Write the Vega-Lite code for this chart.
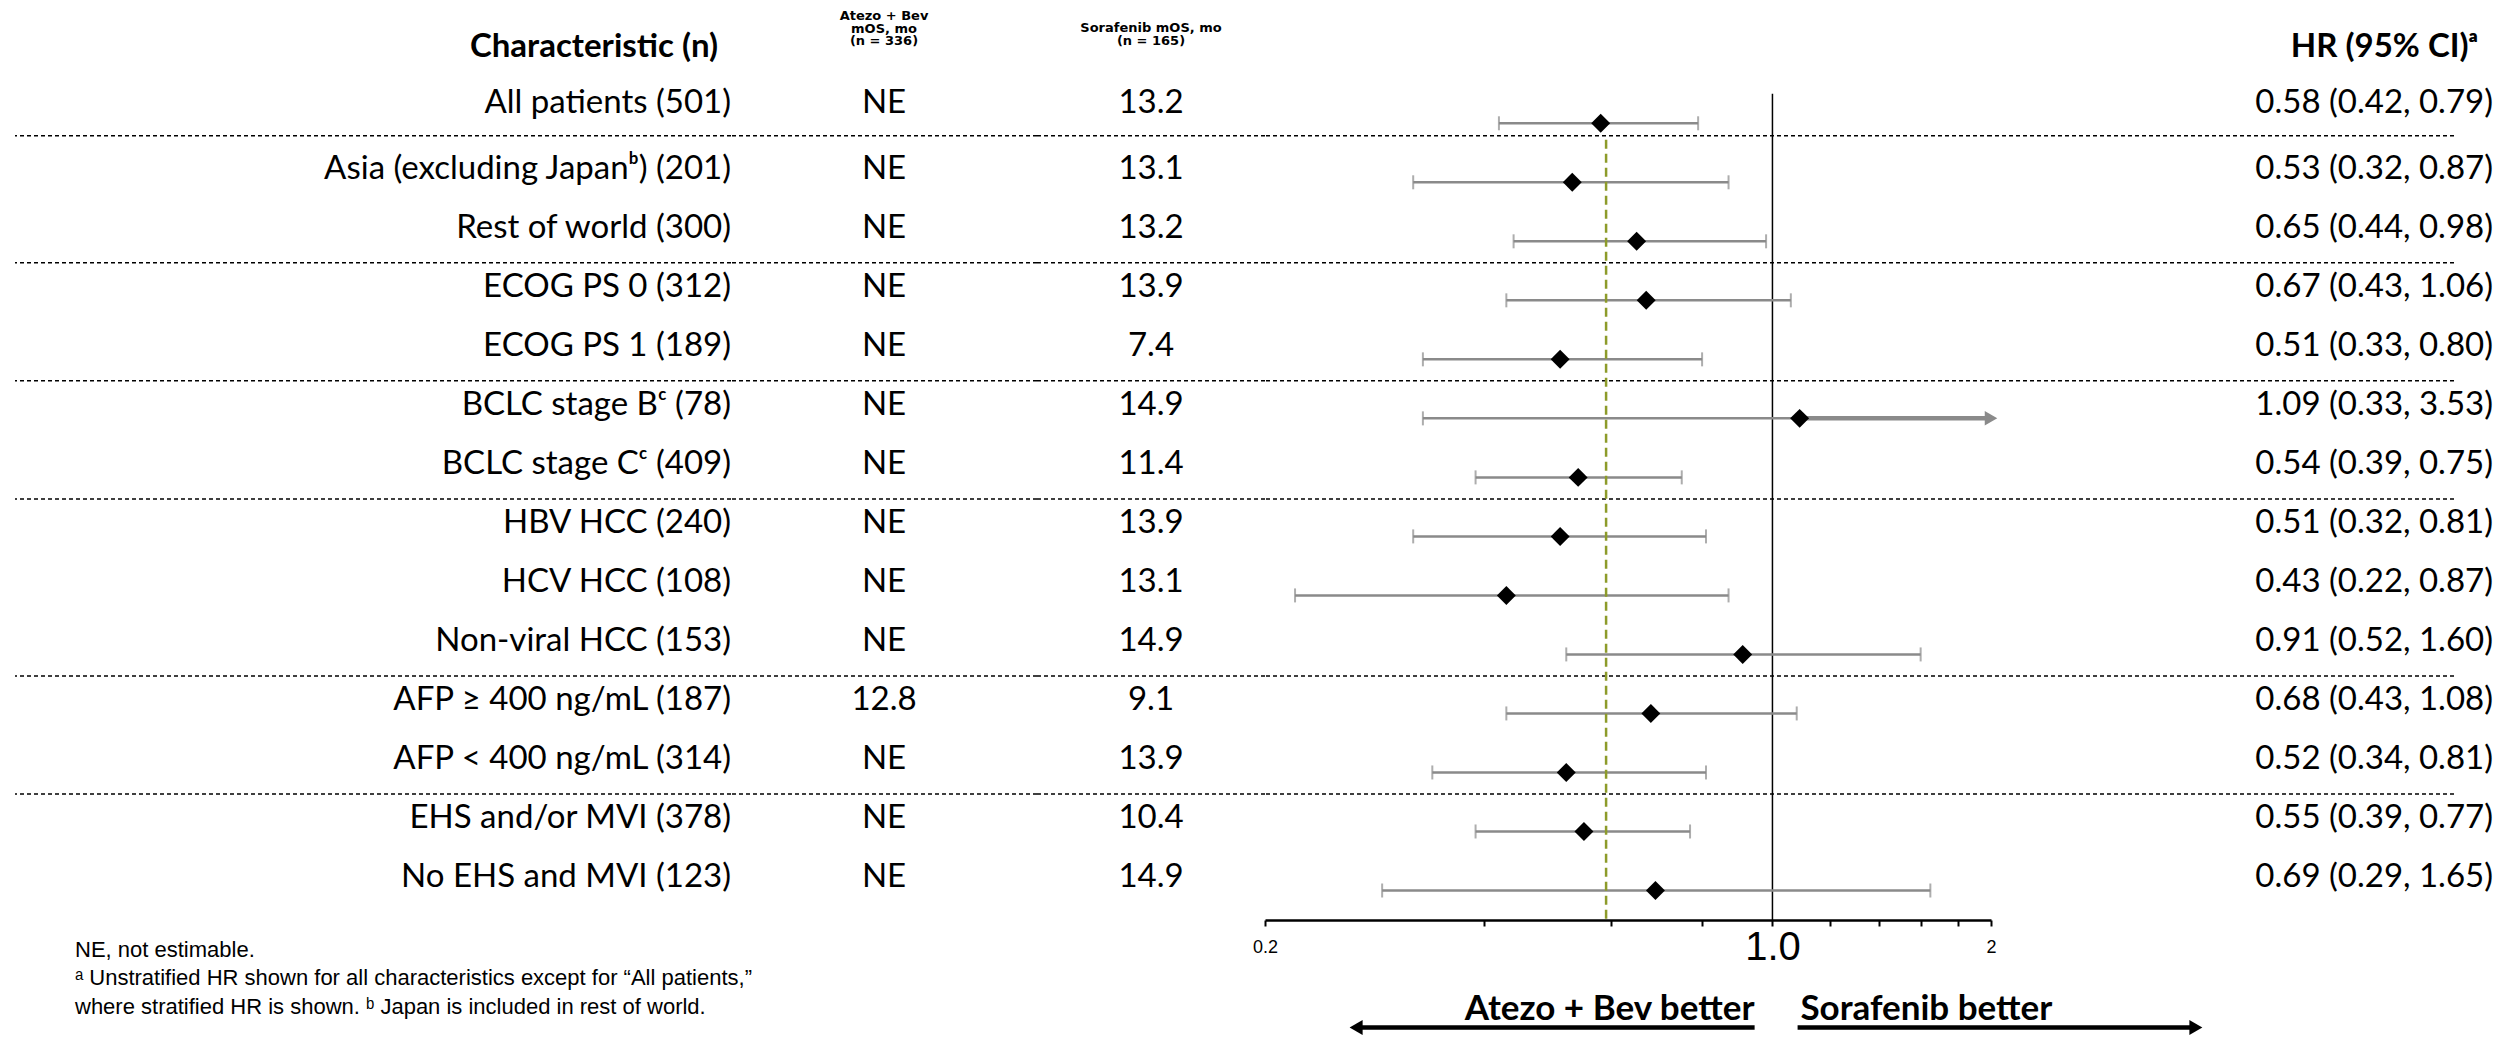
{
  "$schema": "https://vega.github.io/schema/vega-lite/v6.json",
  "padding": {"left": 14, "top": 0, "right": 0, "bottom": 0},
  "background": "white",
  "config": {"view": {"stroke": null}},
  "datasets": {
    "rows": [
      {"row": 0, "label": "All patients (501)", "atezo": "NE", "soraf": "13.2", "hr": 0.58, "lo": 0.42, "hi": 0.79, "hrtext": "0.58 (0.42, 0.79)"},
      {"row": 1, "label": "Asia (excluding Japanᵇ) (201)", "atezo": "NE", "soraf": "13.1", "hr": 0.53, "lo": 0.32, "hi": 0.87, "hrtext": "0.53 (0.32, 0.87)"},
      {"row": 2, "label": "Rest of world (300)", "atezo": "NE", "soraf": "13.2", "hr": 0.65, "lo": 0.44, "hi": 0.98, "hrtext": "0.65 (0.44, 0.98)"},
      {"row": 3, "label": "ECOG PS 0 (312)", "atezo": "NE", "soraf": "13.9", "hr": 0.67, "lo": 0.43, "hi": 1.06, "hrtext": "0.67 (0.43, 1.06)"},
      {"row": 4, "label": "ECOG PS 1 (189)", "atezo": "NE", "soraf": "7.4", "hr": 0.51, "lo": 0.33, "hi": 0.80, "hrtext": "0.51 (0.33, 0.80)"},
      {"row": 5, "label": "BCLC stage Bᶜ (78)", "atezo": "NE", "soraf": "14.9", "hr": 1.09, "lo": 0.33, "hi": 3.53, "hrtext": "1.09 (0.33, 3.53)"},
      {"row": 6, "label": "BCLC stage Cᶜ (409)", "atezo": "NE", "soraf": "11.4", "hr": 0.54, "lo": 0.39, "hi": 0.75, "hrtext": "0.54 (0.39, 0.75)"},
      {"row": 7, "label": "HBV HCC (240)", "atezo": "NE", "soraf": "13.9", "hr": 0.51, "lo": 0.32, "hi": 0.81, "hrtext": "0.51 (0.32, 0.81)"},
      {"row": 8, "label": "HCV HCC (108)", "atezo": "NE", "soraf": "13.1", "hr": 0.43, "lo": 0.22, "hi": 0.87, "hrtext": "0.43 (0.22, 0.87)"},
      {"row": 9, "label": "Non-viral HCC (153)", "atezo": "NE", "soraf": "14.9", "hr": 0.91, "lo": 0.52, "hi": 1.60, "hrtext": "0.91 (0.52, 1.60)"},
      {"row": 10, "label": "AFP ≥ 400 ng/mL (187)", "atezo": "12.8", "soraf": "9.1", "hr": 0.68, "lo": 0.43, "hi": 1.08, "hrtext": "0.68 (0.43, 1.08)"},
      {"row": 11, "label": "AFP < 400 ng/mL (314)", "atezo": "NE", "soraf": "13.9", "hr": 0.52, "lo": 0.34, "hi": 0.81, "hrtext": "0.52 (0.34, 0.81)"},
      {"row": 12, "label": "EHS and/or MVI (378)", "atezo": "NE", "soraf": "10.4", "hr": 0.55, "lo": 0.39, "hi": 0.77, "hrtext": "0.55 (0.39, 0.77)"},
      {"row": 13, "label": "No EHS and MVI (123)", "atezo": "NE", "soraf": "14.9", "hr": 0.69, "lo": 0.29, "hi": 1.65, "hrtext": "0.69 (0.29, 1.65)"}
    ],
    "seps": [{"boundary": 0.5}, {"boundary": 2.5}, {"boundary": 4.5}, {"boundary": 6.5}, {"boundary": 9.5}, {"boundary": 11.5}],
    "arrows": [{"dir": "left", "from": 0.945, "to": 0.267}, {"dir": "right", "from": 1.083, "to": 3.83}]
  },
  "spacing": 0,
  "bounds": "flush",
  "hconcat": [
    {
      "width": 716, "height": 920,
      "resolve": {"scale": {"x": "independent"}},
      "layer": [
        {"data": {"name": "seps"}, "transform": [{"filter": "datum.boundary < 1"}], "mark": {"type": "rule", "color": "black", "strokeWidth": 1.5, "strokeDash": [4, 3], "yOffset": -17},
         "encoding": {"y": {"field": "boundary", "type": "quantitative", "scale": {"domain": [-2.089, 13.5], "reverse": true, "nice": false, "zero": false}, "axis": null}}},
        {"data": {"name": "seps"}, "transform": [{"filter": "datum.boundary > 1"}], "mark": {"type": "rule", "color": "black", "strokeWidth": 1.5, "strokeDash": [4, 3], "yOffset": -8},
         "encoding": {"y": {"field": "boundary", "type": "quantitative", "scale": {"domain": [-2.089, 13.5], "reverse": true, "nice": false, "zero": false}, "axis": null}}},
        {"data": {"name": "rows"}, "transform": [{"filter": "datum.row == 0"}], "mark": {"type": "text", "align": "right", "baseline": "middle", "font": "Lato, DejaVu Sans", "fontSize": 33, "dy": -20, "color": "black"},
         "encoding": {
           "x": {"datum": "c", "scale": {"type": "point", "domain": ["c"], "padding": 0, "align": 1}, "axis": null},
           "y": {"field": "row", "type": "quantitative", "scale": {"domain": [-2.089, 13.5], "reverse": true, "nice": false, "zero": false}, "axis": null},
           "text": {"field": "label"}}},
        {"data": {"name": "rows"}, "transform": [{"filter": "datum.row > 0"}], "mark": {"type": "text", "align": "right", "baseline": "middle", "font": "Lato, DejaVu Sans", "fontSize": 33, "dy": -13, "color": "black"},
         "encoding": {
           "x": {"datum": "c", "scale": {"type": "point", "domain": ["c"], "padding": 0, "align": 1}, "axis": null},
           "y": {"field": "row", "type": "quantitative", "scale": {"domain": [-2.089, 13.5], "reverse": true, "nice": false, "zero": false}, "axis": null},
           "text": {"field": "label"}}},
        {"data": {"values": [{}]}, "mark": {"type": "text", "align": "right", "baseline": "middle", "font": "Lato, DejaVu Sans", "fontWeight": "bold", "fontSize": 33, "dx": -13, "dy": -17, "color": "black"},
         "encoding": {
           "x": {"datum": "c", "scale": {"type": "point", "domain": ["c"], "padding": 0, "align": 1}, "axis": null},
           "y": {"datum": -1, "type": "quantitative", "scale": {"domain": [-2.089, 13.5], "reverse": true, "nice": false, "zero": false}, "axis": null},
           "text": {"value": "Characteristic (n)"}}},
        {"data": {"values": [{}]}, "mark": {"type": "text", "align": "left", "baseline": "top", "font": "Liberation Sans, DejaVu Sans", "fontSize": 22, "lineHeight": 28.5, "lineBreak": "\n", "dx": 60, "dy": -10, "color": "black"},
         "encoding": {
           "x": {"datum": "c", "scale": {"type": "point", "domain": ["c"], "padding": 0, "align": 0}, "axis": null},
           "y": {"datum": 14, "type": "quantitative", "scale": {"domain": [-2.089, 13.5], "reverse": true, "nice": false, "zero": false}, "axis": null},
           "text": {"value": "NE, not estimable.\nᵃ Unstratified HR shown for all characteristics except for “All patients,”\nwhere stratified HR is shown. ᵇ Japan is included in rest of world."}}}
      ]
    },
    {
      "width": 306, "height": 920,
      "layer": [
        {"data": {"name": "seps"}, "transform": [{"filter": "datum.boundary < 1"}], "mark": {"type": "rule", "color": "black", "strokeWidth": 1.5, "strokeDash": [4, 3], "yOffset": -17},
         "encoding": {"y": {"field": "boundary", "type": "quantitative", "scale": {"domain": [-2.089, 13.5], "reverse": true, "nice": false, "zero": false}, "axis": null}}},
        {"data": {"name": "seps"}, "transform": [{"filter": "datum.boundary > 1"}], "mark": {"type": "rule", "color": "black", "strokeWidth": 1.5, "strokeDash": [4, 3], "yOffset": -8},
         "encoding": {"y": {"field": "boundary", "type": "quantitative", "scale": {"domain": [-2.089, 13.5], "reverse": true, "nice": false, "zero": false}, "axis": null}}},
        {"data": {"name": "rows"}, "transform": [{"filter": "datum.row == 0"}], "mark": {"type": "text", "align": "center", "baseline": "middle", "font": "Lato, DejaVu Sans", "fontSize": 33, "dy": -20, "color": "black"},
         "encoding": {
           "x": {"datum": "c", "scale": {"type": "point", "domain": ["c"], "padding": 0, "align": 0.5}, "axis": null},
           "y": {"field": "row", "type": "quantitative", "scale": {"domain": [-2.089, 13.5], "reverse": true, "nice": false, "zero": false}, "axis": null},
           "text": {"field": "atezo"}}},
        {"data": {"name": "rows"}, "transform": [{"filter": "datum.row > 0"}], "mark": {"type": "text", "align": "center", "baseline": "middle", "font": "Lato, DejaVu Sans", "fontSize": 33, "dy": -13, "color": "black"},
         "encoding": {
           "x": {"datum": "c", "scale": {"type": "point", "domain": ["c"], "padding": 0, "align": 0.5}, "axis": null},
           "y": {"field": "row", "type": "quantitative", "scale": {"domain": [-2.089, 13.5], "reverse": true, "nice": false, "zero": false}, "axis": null},
           "text": {"field": "atezo"}}},
        {"data": {"values": [{}]}, "mark": {"type": "text", "align": "center", "baseline": "top", "font": "DejaVu Sans", "fontWeight": "bold", "fontSize": 13, "lineHeight": 12.5, "lineBreak": "\n", "dy": -54, "color": "black"},
         "encoding": {
           "x": {"datum": "c", "scale": {"type": "point", "domain": ["c"], "padding": 0, "align": 0.5}, "axis": null},
           "y": {"datum": -1, "type": "quantitative", "scale": {"domain": [-2.089, 13.5], "reverse": true, "nice": false, "zero": false}, "axis": null},
           "text": {"value": "Atezo + Bev\nmOS, mo\n(n = 336)"}}}
      ]
    },
    {
      "width": 228, "height": 920,
      "layer": [
        {"data": {"name": "seps"}, "transform": [{"filter": "datum.boundary < 1"}], "mark": {"type": "rule", "color": "black", "strokeWidth": 1.5, "strokeDash": [4, 3], "yOffset": -17},
         "encoding": {"y": {"field": "boundary", "type": "quantitative", "scale": {"domain": [-2.089, 13.5], "reverse": true, "nice": false, "zero": false}, "axis": null}}},
        {"data": {"name": "seps"}, "transform": [{"filter": "datum.boundary > 1"}], "mark": {"type": "rule", "color": "black", "strokeWidth": 1.5, "strokeDash": [4, 3], "yOffset": -8},
         "encoding": {"y": {"field": "boundary", "type": "quantitative", "scale": {"domain": [-2.089, 13.5], "reverse": true, "nice": false, "zero": false}, "axis": null}}},
        {"data": {"name": "rows"}, "transform": [{"filter": "datum.row == 0"}], "mark": {"type": "text", "align": "center", "baseline": "middle", "font": "Lato, DejaVu Sans", "fontSize": 33, "dy": -20, "color": "black"},
         "encoding": {
           "x": {"datum": "c", "scale": {"type": "point", "domain": ["c"], "padding": 0, "align": 0.5}, "axis": null},
           "y": {"field": "row", "type": "quantitative", "scale": {"domain": [-2.089, 13.5], "reverse": true, "nice": false, "zero": false}, "axis": null},
           "text": {"field": "soraf"}}},
        {"data": {"name": "rows"}, "transform": [{"filter": "datum.row > 0"}], "mark": {"type": "text", "align": "center", "baseline": "middle", "font": "Lato, DejaVu Sans", "fontSize": 33, "dy": -13, "color": "black"},
         "encoding": {
           "x": {"datum": "c", "scale": {"type": "point", "domain": ["c"], "padding": 0, "align": 0.5}, "axis": null},
           "y": {"field": "row", "type": "quantitative", "scale": {"domain": [-2.089, 13.5], "reverse": true, "nice": false, "zero": false}, "axis": null},
           "text": {"field": "soraf"}}},
        {"data": {"values": [{}]}, "mark": {"type": "text", "align": "center", "baseline": "top", "font": "DejaVu Sans", "fontWeight": "bold", "fontSize": 13, "lineHeight": 12.5, "lineBreak": "\n", "dy": -42, "color": "black"},
         "encoding": {
           "x": {"datum": "c", "scale": {"type": "point", "domain": ["c"], "padding": 0, "align": 0.5}, "axis": null},
           "y": {"datum": -1, "type": "quantitative", "scale": {"domain": [-2.089, 13.5], "reverse": true, "nice": false, "zero": false}, "axis": null},
           "text": {"value": "Sorafenib mOS, mo\n(n = 165)"}}}
      ]
    },
    {
      "width": 726, "height": 920,
      "resolve": {"scale": {"x": "independent"}},
      "layer": [
        {"data": {"name": "seps"}, "transform": [{"filter": "datum.boundary < 1"}], "mark": {"type": "rule", "color": "black", "strokeWidth": 1.5, "strokeDash": [4, 3], "yOffset": -17},
         "encoding": {"y": {"field": "boundary", "type": "quantitative", "scale": {"domain": [-2.089, 13.5], "reverse": true, "nice": false, "zero": false}, "axis": null}}},
        {"data": {"name": "seps"}, "transform": [{"filter": "datum.boundary > 1"}], "mark": {"type": "rule", "color": "black", "strokeWidth": 1.5, "strokeDash": [4, 3], "yOffset": -8},
         "encoding": {"y": {"field": "boundary", "type": "quantitative", "scale": {"domain": [-2.089, 13.5], "reverse": true, "nice": false, "zero": false}, "axis": null}}},
        {"data": {"values": [{}]}, "mark": {"type": "rule", "color": "black", "strokeWidth": 1.5},
         "encoding": {
           "x": {"datum": 1, "type": "quantitative", "scale": {"type": "log", "domain": [0.2, 2], "nice": false, "clamp": true},
                 "axis": {"values": [0.2, 0.4, 0.6, 0.8, 1, 1.2, 1.4, 1.6, 1.8, 2],
                          "labelExpr": "datum.value == 0.2 ? '0.2' : (datum.value == 1 ? '1.0' : (datum.value == 2 ? '2' : ''))",
                          "labelFontSize": {"condition": {"test": "datum.value == 1", "value": 40}, "value": 18},
                          "labelFont": "Liberation Sans", "labelColor": "black", "labelBaseline": "middle", "labelPadding": 21,
                          "labelFlush": false, "labelOverlap": false, "labelBound": false,
                          "tickColor": "black", "tickWidth": 2, "tickSize": 6,
                          "domainColor": "black", "domainWidth": 2.5, "grid": false, "title": null}},
           "y": {"datum": -0.5, "type": "quantitative", "scale": {"domain": [-2.089, 13.5], "reverse": true, "nice": false, "zero": false}, "axis": null},
           "y2": {"datum": 13.5}}},
        {"data": {"name": "rows"}, "mark": {"type": "rule", "color": "#8a8a8a", "strokeWidth": 2.5},
         "encoding": {
           "x": {"field": "lo", "type": "quantitative", "scale": {"type": "log", "domain": [0.2, 2], "nice": false, "clamp": true}, "axis": null},
           "x2": {"field": "hi"},
           "y": {"field": "row", "type": "quantitative", "scale": {"domain": [-2.089, 13.5], "reverse": true, "nice": false, "zero": false}, "axis": null}}},
        {"data": {"values": [{}]}, "mark": {"type": "rule", "color": "#8d9b2a", "strokeWidth": 2.5, "strokeDash": [9, 5]},
         "encoding": {
           "x": {"datum": 0.59, "type": "quantitative", "scale": {"type": "log", "domain": [0.2, 2], "nice": false, "clamp": true}, "axis": null},
           "y": {"datum": 0.28, "type": "quantitative", "scale": {"domain": [-2.089, 13.5], "reverse": true, "nice": false, "zero": false}, "axis": null},
           "y2": {"datum": 13.5}}},
        {"data": {"name": "rows"}, "mark": {"type": "tick", "orient": "vertical", "color": "#8a8a8a", "size": 14, "thickness": 2},
         "encoding": {
           "x": {"field": "lo", "type": "quantitative", "scale": {"type": "log", "domain": [0.2, 2], "nice": false, "clamp": true}, "axis": null},
           "y": {"field": "row", "type": "quantitative", "scale": {"domain": [-2.089, 13.5], "reverse": true, "nice": false, "zero": false}, "axis": null}}},
        {"data": {"name": "rows"}, "transform": [{"filter": "datum.hi <= 2"}], "mark": {"type": "tick", "orient": "vertical", "color": "#8a8a8a", "size": 14, "thickness": 2},
         "encoding": {
           "x": {"field": "hi", "type": "quantitative", "scale": {"type": "log", "domain": [0.2, 2], "nice": false, "clamp": true}, "axis": null},
           "y": {"field": "row", "type": "quantitative", "scale": {"domain": [-2.089, 13.5], "reverse": true, "nice": false, "zero": false}, "axis": null}}},
        {"data": {"name": "rows"}, "transform": [{"filter": "datum.hi > 2"}], "mark": {"type": "rule", "color": "#8a8a8a", "strokeWidth": 4.5},
         "encoding": {
           "x": {"field": "hr", "type": "quantitative", "scale": {"type": "log", "domain": [0.2, 2], "nice": false, "clamp": true}, "axis": null},
           "x2": {"field": "hi"},
           "y": {"field": "row", "type": "quantitative", "scale": {"domain": [-2.089, 13.5], "reverse": true, "nice": false, "zero": false}, "axis": null}}},
        {"data": {"name": "rows"}, "transform": [{"filter": "datum.hi > 2"}], "mark": {"type": "point", "shape": "triangle-right", "filled": true, "color": "#8a8a8a", "opacity": 1, "size": 210},
         "encoding": {
           "x": {"field": "hi", "type": "quantitative", "scale": {"type": "log", "domain": [0.2, 2], "nice": false, "clamp": true}, "axis": null},
           "y": {"field": "row", "type": "quantitative", "scale": {"domain": [-2.089, 13.5], "reverse": true, "nice": false, "zero": false}, "axis": null}}},
        {"data": {"name": "rows"}, "mark": {"type": "point", "shape": "diamond", "filled": true, "color": "black", "opacity": 1, "size": 360},
         "encoding": {
           "x": {"field": "hr", "type": "quantitative", "scale": {"type": "log", "domain": [0.2, 2], "nice": false, "clamp": true}, "axis": null},
           "y": {"field": "row", "type": "quantitative", "scale": {"domain": [-2.089, 13.5], "reverse": true, "nice": false, "zero": false}, "axis": null}}},
        {"data": {"name": "arrows"}, "mark": {"type": "rule", "color": "black", "strokeWidth": 4.5},
         "encoding": {
           "x": {"field": "from", "type": "quantitative", "scale": {"type": "log", "domain": [0.2, 2], "nice": false}, "axis": null},
           "x2": {"field": "to"},
           "y": {"datum": 15.32, "type": "quantitative", "scale": {"domain": [-2.089, 13.5], "reverse": true, "nice": false, "zero": false}, "axis": null}}},
        {"data": {"name": "arrows"}, "mark": {"type": "point", "filled": true, "color": "black", "opacity": 1, "size": 225},
         "encoding": {
           "x": {"field": "to", "type": "quantitative", "scale": {"type": "log", "domain": [0.2, 2], "nice": false}, "axis": null},
           "y": {"datum": 15.32, "type": "quantitative", "scale": {"domain": [-2.089, 13.5], "reverse": true, "nice": false, "zero": false}, "axis": null},
           "shape": {"field": "dir", "type": "nominal", "scale": {"domain": ["left", "right"], "range": ["triangle-left", "triangle-right"]}, "legend": null}}},
        {"data": {"values": [{}]}, "mark": {"type": "text", "align": "right", "baseline": "middle", "font": "Lato, DejaVu Sans", "fontWeight": "bold", "fontSize": 35, "dx": -18, "color": "black"},
         "encoding": {
           "x": {"datum": 1, "type": "quantitative", "scale": {"type": "log", "domain": [0.2, 2], "nice": false}, "axis": null},
           "y": {"datum": 15, "type": "quantitative", "scale": {"domain": [-2.089, 13.5], "reverse": true, "nice": false, "zero": false}, "axis": null},
           "text": {"value": "Atezo + Bev better"}}},
        {"data": {"values": [{}]}, "mark": {"type": "text", "align": "left", "baseline": "middle", "font": "Lato, DejaVu Sans", "fontWeight": "bold", "fontSize": 35, "dx": 28, "color": "black"},
         "encoding": {
           "x": {"datum": 1, "type": "quantitative", "scale": {"type": "log", "domain": [0.2, 2], "nice": false}, "axis": null},
           "y": {"datum": 15, "type": "quantitative", "scale": {"domain": [-2.089, 13.5], "reverse": true, "nice": false, "zero": false}, "axis": null},
           "text": {"value": "Sorafenib better"}}}
      ]
    },
    {
      "width": 463, "height": 920,
      "layer": [
        {"data": {"name": "seps"}, "transform": [{"filter": "datum.boundary < 1"}], "mark": {"type": "rule", "color": "black", "strokeWidth": 1.5, "strokeDash": [4, 3], "yOffset": -17},
         "encoding": {"y": {"field": "boundary", "type": "quantitative", "scale": {"domain": [-2.089, 13.5], "reverse": true, "nice": false, "zero": false}, "axis": null}}},
        {"data": {"name": "seps"}, "transform": [{"filter": "datum.boundary > 1"}], "mark": {"type": "rule", "color": "black", "strokeWidth": 1.5, "strokeDash": [4, 3], "yOffset": -8},
         "encoding": {"y": {"field": "boundary", "type": "quantitative", "scale": {"domain": [-2.089, 13.5], "reverse": true, "nice": false, "zero": false}, "axis": null}}},
        {"data": {"name": "rows"}, "transform": [{"filter": "datum.row == 0"}], "mark": {"type": "text", "align": "right", "baseline": "middle", "font": "Lato, DejaVu Sans", "fontSize": 33, "dx": 39, "dy": -20, "color": "black"},
         "encoding": {
           "x": {"datum": "c", "scale": {"type": "point", "domain": ["c"], "padding": 0, "align": 1}, "axis": null},
           "y": {"field": "row", "type": "quantitative", "scale": {"domain": [-2.089, 13.5], "reverse": true, "nice": false, "zero": false}, "axis": null},
           "text": {"field": "hrtext"}}},
        {"data": {"name": "rows"}, "transform": [{"filter": "datum.row > 0"}], "mark": {"type": "text", "align": "right", "baseline": "middle", "font": "Lato, DejaVu Sans", "fontSize": 33, "dx": 39, "dy": -13, "color": "black"},
         "encoding": {
           "x": {"datum": "c", "scale": {"type": "point", "domain": ["c"], "padding": 0, "align": 1}, "axis": null},
           "y": {"field": "row", "type": "quantitative", "scale": {"domain": [-2.089, 13.5], "reverse": true, "nice": false, "zero": false}, "axis": null},
           "text": {"field": "hrtext"}}},
        {"data": {"values": [{}]}, "mark": {"type": "text", "align": "right", "baseline": "middle", "font": "Lato, DejaVu Sans", "fontWeight": "bold", "fontSize": 33, "dx": 24, "dy": -17, "color": "black"},
         "encoding": {
           "x": {"datum": "c", "scale": {"type": "point", "domain": ["c"], "padding": 0, "align": 1}, "axis": null},
           "y": {"datum": -1, "type": "quantitative", "scale": {"domain": [-2.089, 13.5], "reverse": true, "nice": false, "zero": false}, "axis": null},
           "text": {"value": "HR (95% CI)ᵃ"}}}
      ]
    }
  ]
}
